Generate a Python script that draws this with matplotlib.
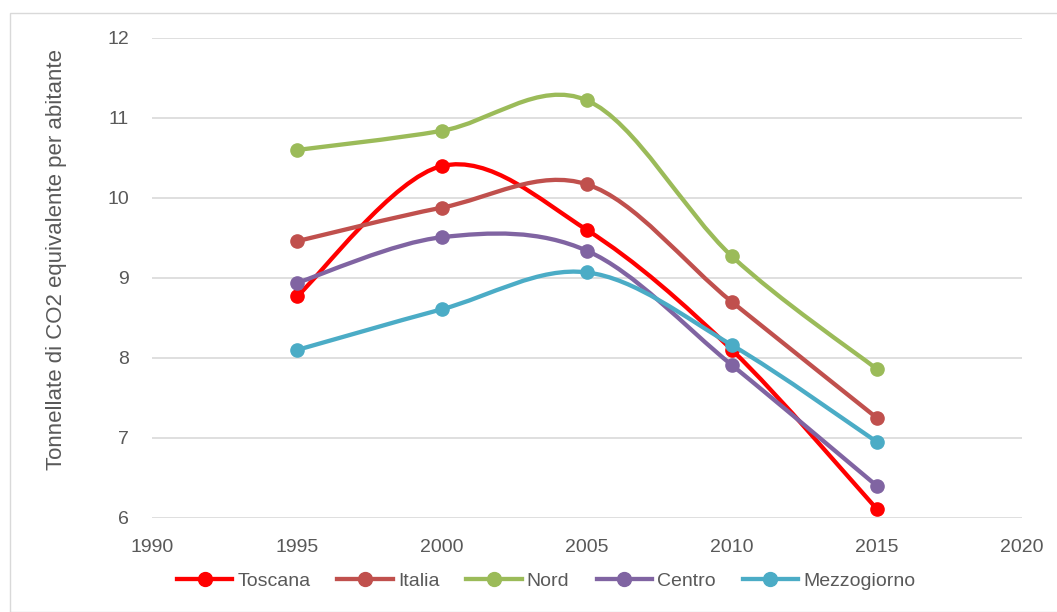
import matplotlib
matplotlib.use("Agg")
import matplotlib.pyplot as plt
from matplotlib.path import Path
from matplotlib.patches import PathPatch, Rectangle
from matplotlib.lines import Line2D

years = [1995, 2000, 2005, 2010, 2015]
toscana = [8.77, 10.40, 9.60, 8.10, 6.11]
italia = [9.46, 9.88, 10.17, 8.70, 7.25]
nord = [10.60, 10.84, 11.22, 9.27, 7.86]
centro = [8.94, 9.51, 9.34, 7.91, 6.40]
mezzogiorno = [8.10, 8.61, 9.07, 8.16, 6.95]

series_names = ["Toscana", "Italia", "Nord", "Centro", "Mezzogiorno"]
series_values = [toscana, italia, nord, centro, mezzogiorno]
colors = ["#FF0000", "#C0504D", "#9BBB59", "#8064A2", "#4BACC6"]

xticks = [1990, 1995, 2000, 2005, 2010, 2015, 2020]
yticks = [6, 7, 8, 9, 10, 11, 12]

FONT = ["Liberation Sans Narrow", "Liberation Sans", "DejaVu Sans"]
plt.rcParams["font.family"] = FONT
TXT = "#595959"

W, H = 1057, 612
fig = plt.figure(figsize=(W / 100, H / 100), dpi=100)
ax = fig.add_axes([152 / W, 1 - 518 / H, (1022 - 152) / W, (518 - 38) / H])
ax.set_xlim(1990, 2020)
ax.set_ylim(6, 12)


def smooth_path(xs, ys):
    pts = list(zip(xs, ys))
    n = len(pts)
    verts = [pts[0]]
    codes = [Path.MOVETO]
    for i in range(n - 1):
        p0 = pts[max(i - 1, 0)]
        p1 = pts[i]
        p2 = pts[i + 1]
        p3 = pts[min(i + 2, n - 1)]
        c1 = (p1[0] + (p2[0] - p0[0]) / 6, p1[1] + (p2[1] - p0[1]) / 6)
        c2 = (p2[0] - (p3[0] - p1[0]) / 6, p2[1] - (p3[1] - p1[1]) / 6)
        verts += [c1, c2, p2]
        codes += [Path.CURVE4, Path.CURVE4, Path.CURVE4]
    return Path(verts, codes)


for k, (name, vals, c) in enumerate(zip(series_names, series_values, colors)):
    patch = PathPatch(smooth_path(years, vals), fill=False, edgecolor=c,
                      lw=3.1, capstyle="round", joinstyle="round", zorder=3 + 2 * k)
    ax.add_patch(patch)
    ax.plot(years, vals, ls="none", marker="o", ms=9.5, color=c, zorder=4 + 2 * k)

ax.set_xticks(xticks)
ax.set_yticks(yticks)
ax.grid(axis="y", color="#D9D9D9", lw=1.2, zorder=0)
for s in ax.spines.values():
    s.set_visible(False)
ax.tick_params(axis="both", length=0, labelsize=14, colors=TXT)
ax.tick_params(axis="y", pad=16.5)
ax.tick_params(axis="x", pad=15)

fig.text(57 / W, 1 - 260 / H, "Tonnellate di CO2 equivalente per abitante",
         rotation=90, ha="center", va="center", fontsize=16, color=TXT)

handles = [Line2D([0], [0], color=c, lw=3.1, marker="o", ms=10) for c in colors]
fig.legend(handles, series_names, loc="center", bbox_to_anchor=(546 / W, 1 - 581 / H),
           ncol=5, frameon=False, fontsize=14, handlelength=2.85, handletextpad=0.25,
           columnspacing=1.4, labelcolor=TXT, borderpad=0, borderaxespad=0)

fig.patches.append(Rectangle((10 / W, 0), 1.2, 1 - 13 / H, transform=fig.transFigure,
                             fill=False, edgecolor="#D9D9D9", lw=1.0))

fig.savefig("out.png", dpi=100)
